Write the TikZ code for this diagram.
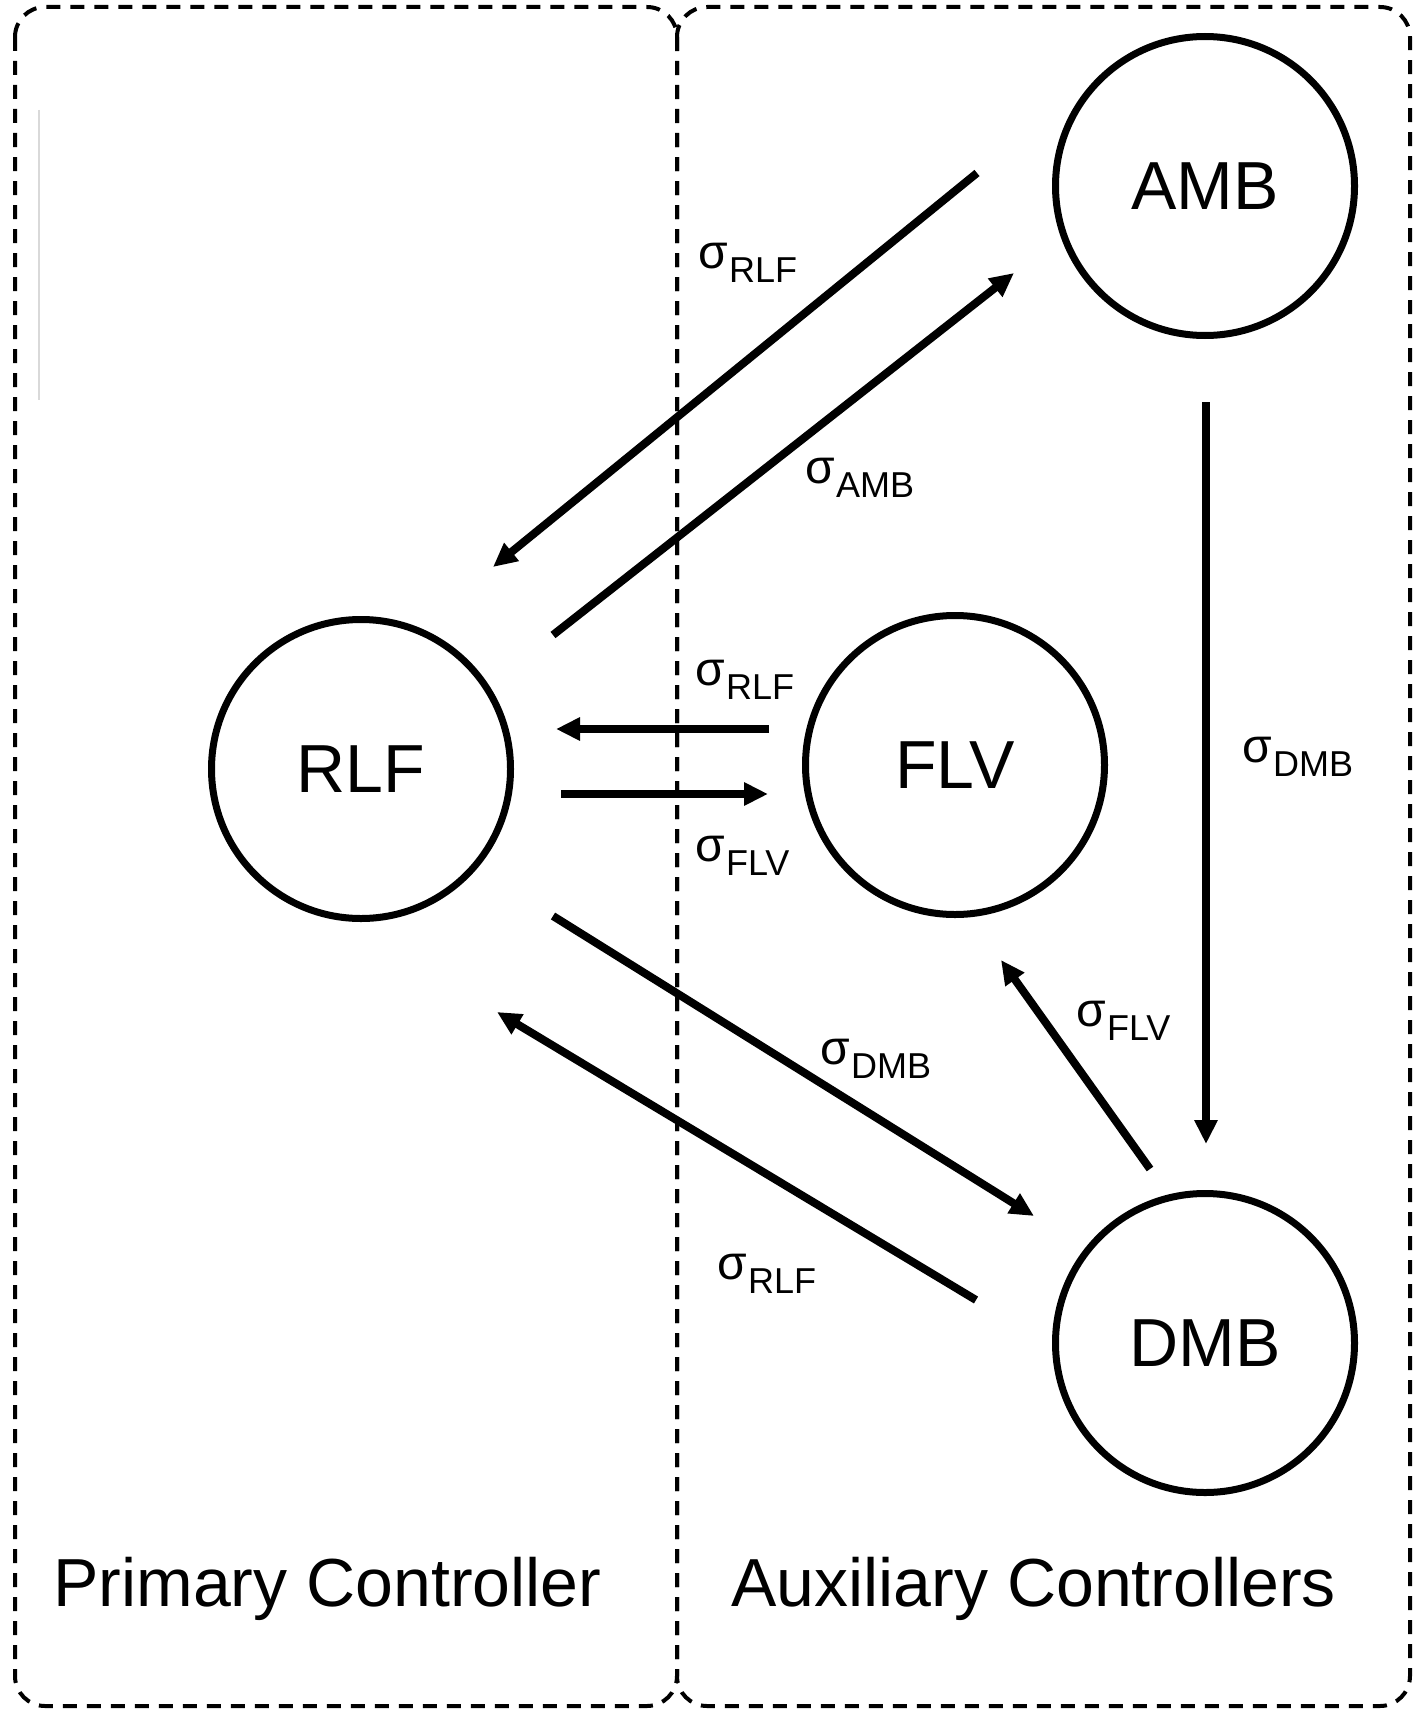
\documentclass[tikz,border=0pt]{standalone}
\usepackage{fontspec}
\setmainfont{Liberation Sans}
\usetikzlibrary{arrows.meta}
\newcommand{\sg}[1]{{\fontsize{24}{24}\selectfont σ}\kern0.5pt\raisebox{-7pt}{\fontsize{18}{18}\selectfont #1}}
\begin{document}
\begin{tikzpicture}[x=0.5pt,y=-0.5pt,
  region/.style={draw, line width=2pt, dash pattern=on 7pt off 5pt, rounded corners=15pt},
  ctrl/.style={circle, draw, line width=3.5pt, minimum size=149.5pt, inner sep=0pt, font=\fontsize{34}{34}\selectfont},
  flow/.style={line width=4pt, -{Triangle[length=12pt,width=11pt]}},
  sig/.style={anchor=base west, inner sep=0pt},
  title/.style={anchor=base west, inner sep=0pt, font=\fontsize{34}{34}\selectfont}]
\useasboundingbox (0,0) rectangle (1422,1718);
\fill[white] (0,0) rectangle (1422,1718);
% regions
\draw[region] (15,7) rectangle (677,1706);
\draw[region] (677,7) rectangle (1410,1706);
\draw[gray!30, line width=0.6pt] (39,110) -- (39,400);
% controllers
\node[ctrl] (rlf) at (361,769) {RLF};
\node[ctrl] (flv) at (955,765) {FLV};
\node[ctrl] (amb) at (1205,186) {AMB};
\node[ctrl] (dmb) at (1205,1343) {DMB};
% connector ends
\coordinate (a1) at (977,173);  \coordinate (a2) at (493,567);
\coordinate (b1) at (553,635);  \coordinate (b2) at (1014,273);
\coordinate (c1) at (769,729);  \coordinate (c2) at (556,729);
\coordinate (d1) at (561,794);  \coordinate (d2) at (768,794);
\coordinate (e1) at (1206,402); \coordinate (e2) at (1206,1144);
\coordinate (f1) at (553,916);  \coordinate (f2) at (1034,1216);
\coordinate (g1) at (976,1300); \coordinate (g2) at (497,1012);
\coordinate (h1) at (1150,1169);\coordinate (h2) at (1001,960);
\draw[flow] (a1) -- (a2);
\draw[flow] (b1) -- (b2);
\draw[flow] (c1) -- (c2);
\draw[flow] (d1) -- (d2);
\draw[flow] (e1) -- (e2);
\draw[flow] (f1) -- (f2);
\draw[flow] (g1) -- (g2);
\draw[flow] (h1) -- (h2);
% labels
\node[sig] (l1) at (698,268) {\sg{RLF}};
\node[sig] (l2) at (805,483) {\sg{AMB}};
\node[sig] (l3) at (695,685) {\sg{RLF}};
\node[sig] (l4) at (695,861) {\sg{FLV}};
\node[sig] (l5) at (1242,762) {\sg{DMB}};
\node[sig] (l6) at (820,1064) {\sg{DMB}};
\node[sig] (l7) at (1076,1026) {\sg{FLV}};
\node[sig] (l8) at (717,1279) {\sg{RLF}};
\node[title] (pc) at (53,1606) {Primary Controller};
\node[title] (ac) at (731,1606) {Auxiliary Controllers};
\end{tikzpicture}
\end{document}
